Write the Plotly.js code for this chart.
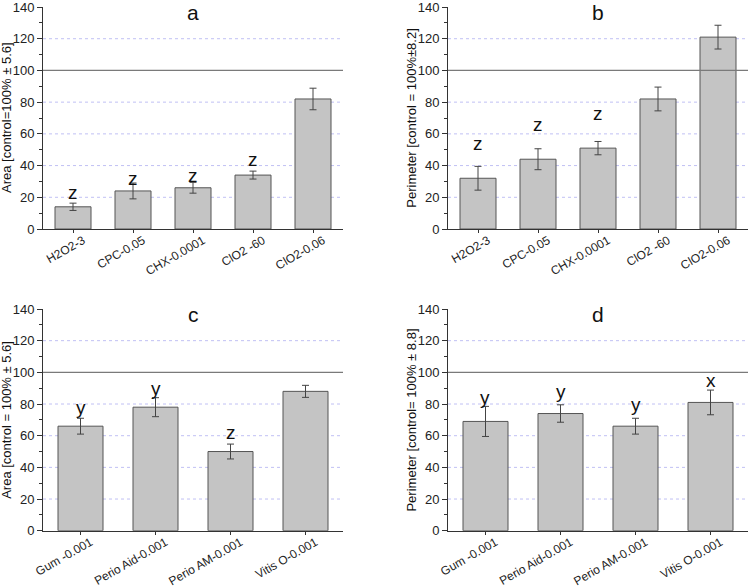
<!DOCTYPE html>
<html>
<head>
<meta charset="utf-8">
<script src="https://cdn.plot.ly/plotly-3.0.1.min.js"></script>
<style>
  body { margin: 0; background: #fff; }
  #plot { width: 749px; height: 587px; }
</style>
</head>
<body>
<div id="plot"></div>
<script>
// panel a / b categories (treatments)
var catsTop = ["H2O2-3", "CPC-0.05", "CHX-0.0001", "ClO2 -60", "ClO2-0.06"];
var areaA = [14, 24, 26, 34, 82];
var areaAErr = [2.3, 5, 3.4, 2.5, 6.8];
var lettersA = ["z", "z", "z", "z", ""];
var letterYA = [23, 32, 34, 44, null];

var perimB = [32, 44, 51, 82, 121];
var perimBErr = [7.5, 6.6, 4.2, 7.5, 7.5];
var lettersB = ["z", "z", "z", "", ""];
var letterYB = [54, 66, 73, null, null];

// panel c / d categories (mouthwashes)
var catsBot = ["Gum -0.001", "Perio Aid-0.001", "Perio AM-0.001", "Vitis O-0.001"];
var areaC = [66, 78, 50, 88];
var areaCErr = [5, 6, 4.7, 3.8];
var lettersC = ["y", "y", "z", ""];
var letterYC = [78, 90, 62, null];

var perimD = [69, 74, 66, 81];
var perimDErr = [9.5, 5.5, 5, 7.8];
var lettersD = ["y", "y", "y", "x"];
var letterYD = [84, 88, 80, 95];

var gridVals = [20, 40, 60, 80, 120];
var controlLine = 100;

var font = "Liberation Sans, Arial, sans-serif";
var barFill = "#c4c4c4";
var dark = "#333333";

function barTrace(cats, vals, errs, n) {
  return {
    type: "bar",
    x: cats,
    y: vals,
    width: 0.6,
    xaxis: "x" + (n === 1 ? "" : n),
    yaxis: "y" + (n === 1 ? "" : n),
    marker: {color: barFill, line: {color: "#555555", width: 1}},
    error_y: {type: "data", array: errs, visible: true, color: "#444444", thickness: 1, width: 3.5},
    showlegend: false,
    hoverinfo: "x+y"
  };
}

var data = [
  barTrace(catsTop, areaA, areaAErr, 1),
  barTrace(catsTop, perimB, perimBErr, 2),
  barTrace(catsBot, areaC, areaCErr, 3),
  barTrace(catsBot, perimD, perimDErr, 4)
];

function xAxis(domain, anchor, n) {
  return {
    domain: domain,
    anchor: anchor,
    range: [-0.5, n - 0.5],
    showline: true,
    linecolor: dark,
    linewidth: 1,
    ticks: "outside",
    ticklen: 3,
    tickcolor: dark,
    tickangle: -30,
    ticklabelstandoff: -4,
    ticklabelshift: 10,
    ticklabeloverflow: "allow",
    tickfont: {family: font, size: 12, color: "#222"},
    showgrid: false,
    zeroline: false,
    fixedrange: true
  };
}

function yAxis(domain, anchor) {
  return {
    domain: domain,
    anchor: anchor,
    range: [0, 140],
    dtick: 20,
    showline: true,
    linecolor: dark,
    linewidth: 1,
    ticks: "outside",
    ticklen: 5,
    tickcolor: dark,
    ticklabeloverflow: "allow",
    tickfont: {family: font, size: 13, color: "#222"},
    minor: {dtick: 10, ticks: "outside", ticklen: 3, tickcolor: dark, showgrid: false},
    showgrid: false,
    zeroline: false,
    fixedrange: true
  };
}

var xLeft = [43 / 749, 343 / 749];
var xRight = [448 / 749, 748 / 749];
var yTop = [1 - 229 / 587, 1 - 7 / 587];
var yBot = [1 - 530.7 / 587, 1 - 309 / 587];

var shapes = [];
var annotations = [];
var panels = [
  {ax: "", letters: lettersA, ly: letterYA, cats: catsTop, name: "a"},
  {ax: "2", letters: lettersB, ly: letterYB, cats: catsTop, name: "b"},
  {ax: "3", letters: lettersC, ly: letterYC, cats: catsBot, name: "c"},
  {ax: "4", letters: lettersD, ly: letterYD, cats: catsBot, name: "d"}
];

panels.forEach(function (p) {
  var xr = "x" + p.ax, yr = "y" + p.ax;
  gridVals.forEach(function (g) {
    shapes.push({
      type: "line", xref: xr + " domain", yref: yr, x0: 0, x1: 1, y0: g, y1: g,
      line: {color: "#c0c0f4", width: 1, dash: "dot"}, layer: "below"
    });
  });
  shapes.push({
    type: "line", xref: xr + " domain", yref: yr, x0: 0, x1: 1, y0: controlLine, y1: controlLine,
    line: {color: "#7a7a7a", width: 1.3}, layer: "above"
  });
  p.letters.forEach(function (l, i) {
    if (!l) return;
    annotations.push({
      xref: xr, yref: yr, x: p.cats[i], y: p.ly[i], text: l, showarrow: false,
      yanchor: "middle", font: {family: font, size: 19, color: "#111"}
    });
  });
  annotations.push({
    xref: xr + " domain", yref: yr + " domain", x: 0.5, y: 1.035, text: p.name,
    showarrow: false, yanchor: "top", font: {family: font, size: 21, color: "#111"}
  });
});

// y axis titles
var yTitles = [
  {text: "Area [control=100% ± 5.6]", x: 7, y: yTop},
  {text: "Perimeter [control = 100%±8.2]", x: 411.7, y: yTop},
  {text: "Area [control = 100% ± 5.6]", x: 7, y: yBot},
  {text: "Perimeter [control= 100% ± 8.8]", x: 411.7, y: yBot}
];
yTitles.forEach(function (t) {
  annotations.push({
    xref: "paper", yref: "paper", x: t.x / 749, y: (t.y[0] + t.y[1]) / 2,
    text: t.text, textangle: -90, showarrow: false,
    xanchor: "center", yanchor: "middle",
    font: {family: font, size: 13, color: "#111"}
  });
});

var layout = {
  width: 749,
  height: 587,
  margin: {l: 0, r: 0, t: 0, b: 0},
  paper_bgcolor: "#ffffff",
  plot_bgcolor: "#ffffff",
  bargap: 0.4,
  xaxis: xAxis(xLeft, "y", 5),
  yaxis: yAxis(yTop, "x"),
  xaxis2: xAxis(xRight, "y2", 5),
  yaxis2: yAxis(yTop, "x2"),
  xaxis3: xAxis(xLeft, "y3", 4),
  yaxis3: yAxis(yBot, "x3"),
  xaxis4: xAxis(xRight, "y4", 4),
  yaxis4: yAxis(yBot, "x4"),
  shapes: shapes,
  annotations: annotations,
  font: {family: font}
};

Plotly.newPlot("plot", data, layout, {displayModeBar: false, staticPlot: true});
</script>
</body>
</html>
